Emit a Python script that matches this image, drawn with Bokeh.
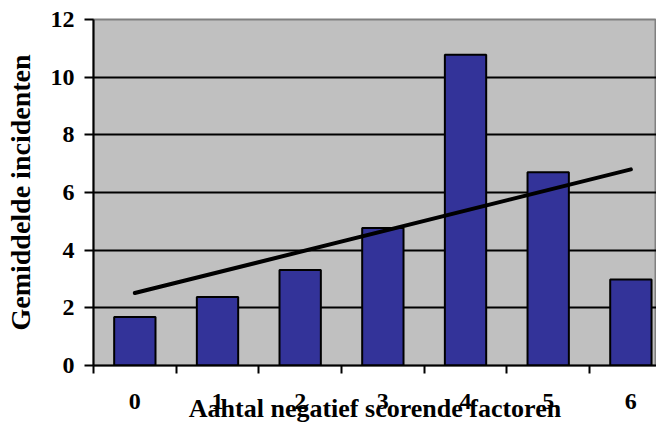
import numpy as np
from bokeh.plotting import figure
from bokeh.models import FixedTicker, ColumnDataSource, Range1d
from bokeh.embed import file_html
from bokeh.resources import INLINE

categories = ["0", "1", "2", "3", "4", "5", "6"]
values = [1.68, 2.38, 3.31, 4.77, 10.78, 6.70, 2.98]
y_ticks = [0, 2, 4, 6, 8, 10, 12]

x = list(range(len(categories)))
slope, intercept = np.polyfit(x, values, 1)
trend_x = [x[0], x[-1]]
trend_y = [intercept + slope * t for t in trend_x]

p = figure(width=656, height=425, output_backend="svg", toolbar_location=None,
           x_range=Range1d(-0.5, 6.31), y_range=Range1d(0, 12),
           min_border_left=93, min_border_right=0, min_border_top=19, min_border_bottom=40)

p.background_fill_color = "#C0C0C0"
p.border_fill_color = "white"
p.outline_line_color = "#808080"
p.outline_line_width = 2

src = ColumnDataSource(dict(x=x, top=values))
p.vbar(x="x", top="top", width=0.5, bottom=0, source=src,
       fill_color="#333399", line_color="black", line_width=2)
p.line(trend_x, trend_y, line_color="black", line_width=4, line_cap="round")

font = "Liberation Serif"

p.xgrid.visible = False
p.ygrid.ticker = FixedTicker(ticks=y_ticks[1:-1])
p.ygrid.grid_line_color = "black"
p.ygrid.grid_line_width = 2

xa = p.xaxis[0]
xa.ticker = FixedTicker(ticks=x, minor_ticks=[i - 0.5 for i in x] + [x[-1] + 0.5])
xa.major_label_overrides = {i: c for i, c in zip(x, categories)}
xa.major_tick_out = 0
xa.major_tick_in = 0
xa.minor_tick_out = 8
xa.minor_tick_in = 0
xa.minor_tick_line_width = 2
xa.minor_tick_line_color = "black"
xa.axis_line_width = 2
xa.axis_line_color = "black"
xa.major_label_standoff = 20
xa.major_label_text_font = font
xa.major_label_text_font_style = "bold"
xa.major_label_text_font_size = "24px"
xa.major_label_text_color = "black"
xa.axis_label = "Aahtal negatief scorende factoren"
xa.axis_label_text_font = font
xa.axis_label_text_font_style = "bold"
xa.axis_label_text_font_size = "26px"
xa.axis_label_text_color = "black"
xa.axis_label_standoff = -18

ya = p.yaxis[0]
ya.ticker = FixedTicker(ticks=y_ticks, minor_ticks=[])
ya.major_tick_out = 9
ya.major_tick_in = 0
ya.major_tick_line_width = 2
ya.major_tick_line_color = "black"
ya.axis_line_width = 2
ya.axis_line_color = "black"
ya.major_label_standoff = 10
ya.major_label_text_font = font
ya.major_label_text_font_style = "bold"
ya.major_label_text_font_size = "24px"
ya.major_label_text_color = "black"
ya.axis_label = "Gemiddelde incidenten"
ya.axis_label_text_font = font
ya.axis_label_text_font_style = "bold"
ya.axis_label_text_font_size = "28px"
ya.axis_label_text_color = "black"
ya.axis_label_standoff = 12

open("out.html", "w").write(file_html(p, INLINE))
